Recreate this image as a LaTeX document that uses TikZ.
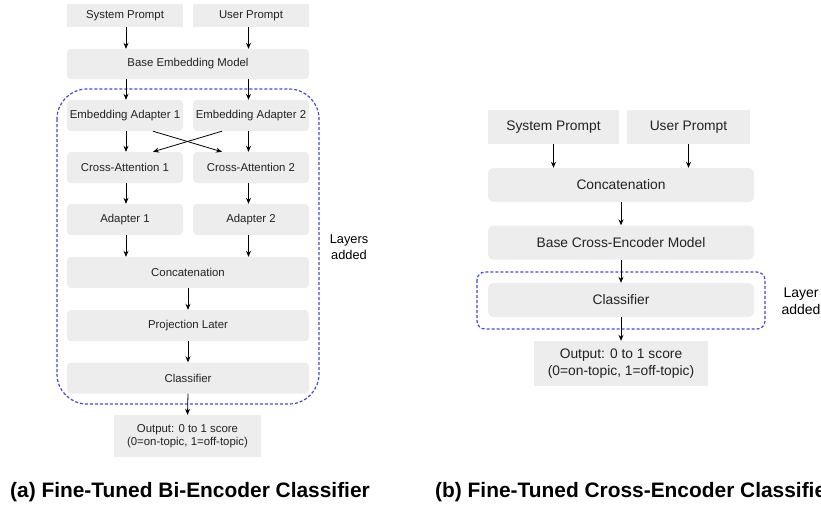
\documentclass[tikz,border=0pt]{standalone}
\usepackage{fontspec}
\setmainfont{Liberation Sans}
\usetikzlibrary{arrows.meta}
\definecolor{boxgray}{HTML}{EDEDED}
\definecolor{dashblue}{HTML}{4646E2}
\definecolor{txtgray}{HTML}{222222}

\begin{document}
\begin{tikzpicture}[x=1pt,y=-1pt]
                % define styles
\tikzset{blk/.style={fill=boxgray,
                       rounded corners=4pt,
                       inner sep=0,
                       text=txtgray,
                       align=center,
                       },
         smallblk/.style={blk,
                       font=\fontsize{11.4}{13.3}\selectfont,
                       minimum width=116pt,
                       minimum height=31pt,
                       },
         wideblk/.style={smallblk,
                       minimum width=242pt,
                       },
         bigblk/.style={blk,
                       rounded corners=5pt,
                       font=\fontsize{13.8}{16.5}\selectfont,
                       minimum height=34pt,
                       },
         arr/.style={-{Stealth[length=6pt,width=5pt]},
                       line width=0.8pt,
                       black,
                       },
         added/.style={draw=dashblue,
                       line width=1.2pt,
                       dash pattern=on 3pt off 2pt,
                       },
         caption/.style={anchor=base west,
                       inner sep=0,
                       font=\bfseries\fontsize{20.9}{24}\selectfont,
                       }
}

\clip (0,0) rectangle (821,504);

% (a) bi-encoder
\node[smallblk, minimum height=23pt, rounded corners=0pt] (sysA) at (125,15.5) {System Prompt};
\node[smallblk, minimum height=23pt, rounded corners=0pt] (usrA) at (251,15.5) {User Prompt};
\node[wideblk, minimum height=30pt]  (baseA) at (188,64)    {Base Embedding Model};
\node[smallblk] (embA1) at (125,115.5) {Embedding Adapter 1};
\node[smallblk] (embA2) at (251,115.5) {Embedding Adapter 2};
\node[smallblk] (crsA1) at (125,167.5) {Cross-Attention 1};
\node[smallblk] (crsA2) at (251,167.5) {Cross-Attention 2};
\node[smallblk] (adpA1) at (125,219.5) {Adapter 1};
\node[smallblk] (adpA2) at (251,219.5) {Adapter 2};
\node[wideblk]  (catA)  at (188,272.5) {Concatenation};
\node[wideblk]  (prjA)  at (188,325.5) {Projection Later};
\node[wideblk]  (clsA)  at (188,378)   {Classifier};
\node[smallblk, rounded corners=0pt, minimum width=147pt, minimum height=42pt]
                (outA)  at (187.5,436) {Output: 0 to 1 score\\(0=on-topic, 1=off-topic)};

\draw[added, rounded corners=30pt] (57,89) rectangle (319,404);
\node[align=center, inner sep=0, font=\fontsize{12.8}{15.4}\selectfont] (lyrA) at (349,247) {Layers\\added};

\foreach \a/\b in {sysA/baseA, embA1/crsA1, crsA1/adpA1}
    \draw[arr] ([xshift=1pt]\a.south) -- ([xshift=1pt]\a.south |- \b.north);
\draw[arr] ([xshift=1pt]baseA.south -| sysA) -- ([xshift=1pt]embA1.north);
\draw[arr] ([xshift=1pt]adpA1.south) -- ([xshift=1pt]adpA1.south |- catA.north);
\foreach \a/\b in {usrA/baseA, embA2/crsA2, crsA2/adpA2}
    \draw[arr] ([xshift=-2.5pt]\a.south) -- ([xshift=-2.5pt]\a.south |- \b.north);
\draw[arr] ([xshift=-2.5pt]baseA.south -| usrA) -- ([xshift=-2.5pt]embA2.north);
\draw[arr] ([xshift=-2.5pt]adpA2.south) -- ([xshift=-2.5pt]adpA2.south |- catA.north);
\draw[arr] ([xshift=28pt]embA1.south) -- ([xshift=-29pt]crsA2.north);
\draw[arr] ([xshift=-29pt]embA2.south) -- ([xshift=28pt]crsA1.north);
\draw[arr] (catA.south) -- (prjA.north);
\draw[arr] (prjA.south) -- (clsA.north);
\draw[arr] (clsA.south) -- (outA.north);

\node[caption] (capA) at (10,497) {(a) Fine-Tuned Bi-Encoder Classifier};

% (b) cross-encoder
\node[bigblk, rounded corners=0pt, minimum width=131pt] (sysB) at (553.5,127) {System Prompt};
\node[bigblk, rounded corners=0pt, minimum width=123pt] (usrB) at (688.5,127) {User Prompt};
\node[bigblk, minimum width=266pt] (catB)  at (621,185)   {Concatenation};
\node[bigblk, minimum width=266pt] (baseB) at (621,242.5) {Base Cross-Encoder Model};
\node[bigblk, minimum width=266pt] (clsB)  at (621,300)   {Classifier};
\node[bigblk, rounded corners=0pt, minimum width=174pt, minimum height=45pt]
                (outB) at (621,363.5) {Output: 0 to 1 score\\(0=on-topic, 1=off-topic)};

\draw[added, rounded corners=8pt] (477,272) rectangle (765,329);
\node[align=center, inner sep=0, font=\fontsize{14}{17.5}\selectfont] (lyrB) at (801,301) {Layer\\added};

\draw[arr] (sysB.south) -- (sysB.south |- catB.north);
\draw[arr] (usrB.south) -- (usrB.south |- catB.north);
\draw[arr] (catB.south) -- (baseB.north);
\draw[arr] (baseB.south) -- (clsB.north);
\draw[arr] (clsB.south) -- (outB.north);

\node[caption] (capB) at (435,497) {(b) Fine-Tuned Cross-Encoder Classifier};

\end{tikzpicture}
\end{document}
